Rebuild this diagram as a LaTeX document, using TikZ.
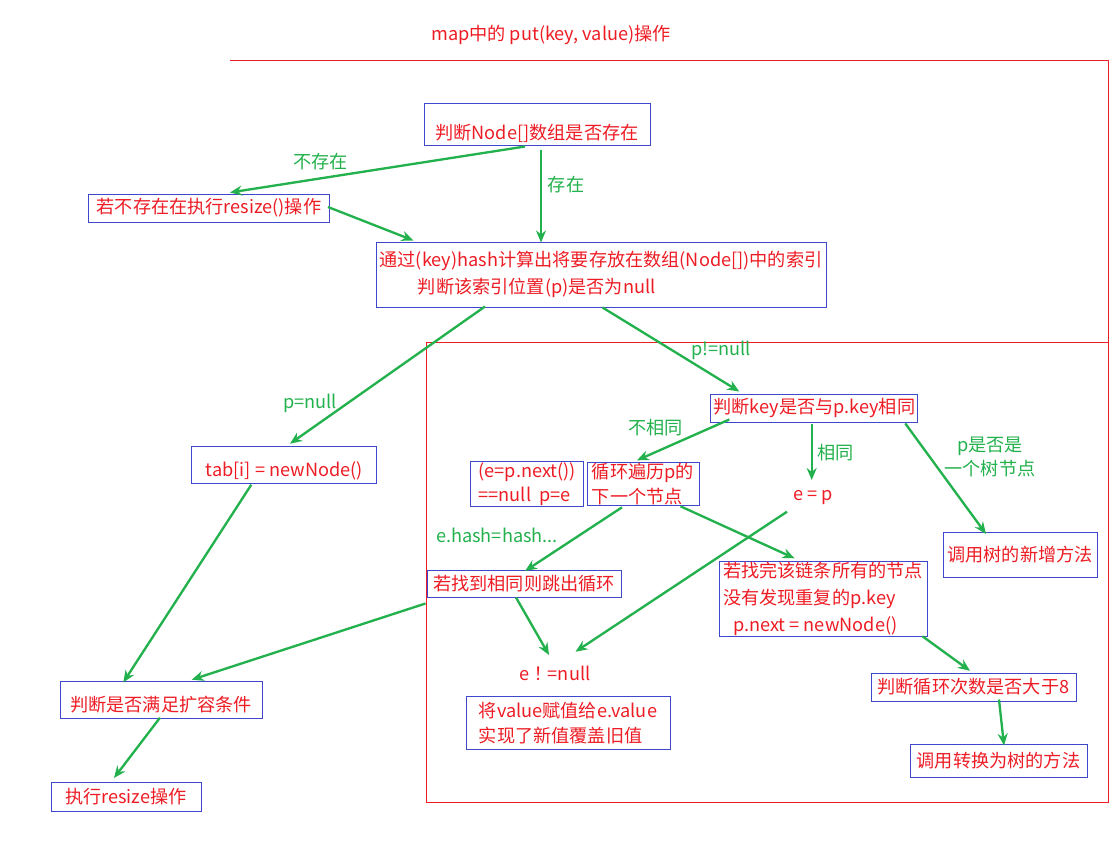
\documentclass[tikz,border=0pt]{standalone}
\usepackage{fontspec}
\setmainfont{Noto Sans CJK SC}
\newfontfamily\tcfont{Noto Sans CJK TC}
\definecolor{mygreen}{HTML}{22B14C}
\definecolor{myred}{HTML}{ED1C24}
\definecolor{myblue}{HTML}{3F48CC}
\usepackage{tikz}
\usetikzlibrary{arrows.meta, calc}
\newcommand{\flowfont}{\fontsize{15.5}{21}\selectfont}
\tikzset{
    flowbox/.style={draw=myblue, line width=0.3mm, text=myred, inner sep=0.5pt, align=left, font=\flowfont},
    boxsize/.style 2 args={minimum width=#1*0.3mm, minimum height=#2*0.3mm},
    lowtext/.style={text height=#1, text depth=0pt},
    plaintext/.style={text=myred, inner sep=1pt, font=\flowfont},
    lbl/.style={text=mygreen, inner sep=0pt, align=center, font=\flowfont},
    flowarrow/.style={draw=mygreen, line width=0.7mm, -{Stealth[length=3.6mm,width=3mm]}}
}

\begin{document}
\begin{tikzpicture}[x=0.3mm,y=-0.3mm]
        \useasboundingbox (0,0) rectangle (1113,852);

        % Frame
        \node[plaintext] (title) at (551,35) {map中的 put(key, value)操作};
        \draw[myred, line width=0.3mm] (230,60) -- (1108,60) -- (1108,802) -- (426,802) -- (426,342) -- (1108,342);

        % Boxes
        \node[flowbox, boxsize={226}{42}, lowtext=9.2mm] (nodearr) at (537,124) {判断Node[]数组是否存在};
        \node[flowbox, boxsize={241}{28}] (resizeA) at (209,208) {若不存在在执行resize()操作};
        \node[flowbox, boxsize={450}{65}, font=\fontsize{15.5}{22.5}\selectfont] (hashidx) at (601,274.5)
            {通过(key)hash计算出将要存放在数组(Node[])中的索引\\\hspace*{11.5mm}判断该索引位置(p)是否为null};
        \node[flowbox, boxsize={185}{37}, lowtext=7mm] (tabnew) at (284.3,464.7) {tab[i] = newNode()};
        \node[flowbox, boxsize={207}{28}] (keycmp) at (814.3,408) {判断key是否与p.key相同};
        \node[flowbox, boxsize={113}{43}] (loopcond) at (527.3,484.3) {(e=p.next())\\==null\ \ p=e};
        \node[flowbox, boxsize={112}{43}] (loopnext) at (643,484.3) {循环遍历p的\\下一个节点};
        \node[flowbox, boxsize={194}{27}] (foundsame) at (524,583.5) {若找到相同则跳出循环};
        \node[flowbox, boxsize={208}{75}, font=\fontsize{15.5}{23}\selectfont] (notfound) at (823,599.3)
            {若找完该链条所有的节点\\没有发现重复的p.key\\\hspace*{3mm}p.next = newNode()};
        \node[flowbox, boxsize={154}{45}] (treeadd) at (1020,555) {调用树的新增方法};
        \node[plaintext] (eisp) at (813,498) {e = p};
        \node[plaintext] (enotnull) at (555,673) {e{\tcfont ！}=null};
        \node[flowbox, boxsize={204}{53}] (setvalue) at (568,723.3) {将value赋值给e.value\\实现了新值覆盖旧值};
        \node[flowbox, boxsize={205}{28}] (loopcount) at (973.5,687) {判断循环次数是否大于8};
        \node[flowbox, boxsize={177}{33}] (totree) at (998.5,760.5) {调用转换为树的方法};
        \node[flowbox, boxsize={202}{37}, lowtext=7mm] (resizecheck) at (161,699.7) {判断是否满足扩容条件};
        \node[flowbox, boxsize={150}{29}] (doresize) at (126,797) {执行resize操作};

        % Labels
        \node[lbl] (lnone) at (320.5,161.7) {不存在};
        \node[lbl] (lexist) at (566,185) {存在};
        \node[lbl] (lnull) at (310,403) {p=null};
        \node[lbl] (lnotnull) at (721,350) {p!=null};
        \node[lbl] (ldiff) at (655.5,427.7) {不相同};
        \node[lbl] (lsame) at (835.5,452.7) {相同};
        \node[lbl] (ltree) at (990,457) {p是否是\\一个树节点};
        \node[lbl] (lhash) at (497,535) {e.hash=hash...};

        % Arrows
        \draw[flowarrow] ($(nodearr.south)+(-12,1)$) -- ($(resizeA.north)+(21,-1)$);
        \draw[flowarrow] ($(nodearr.south)+(4,4)$) -- ($(hashidx.north)+(-60,1)$);
        \draw[flowarrow] ($(resizeA.east)+(-2,-1)$) -- ($(hashidx.north west)+(38,-1)$);
        \draw[flowarrow] ($(hashidx.south)+(-116,-1)$) -- ($(tabnew.north)+(5.7,-2)$);
        \draw[flowarrow] ($(hashidx.south)+(1.5,0)$) -- ($(keycmp.north west)+(29,-2)$);
        \draw[flowarrow] ($(keycmp.south west)+(19,-3)$) -- ($(loopnext.north)+(-6,-2)$);
        \draw[flowarrow] ($(keycmp.south)+(-2.6,1)$) -- ($(eisp)+(-1.3,-18)$);
        \draw[flowarrow] ($(keycmp.south east)+(-13,1)$) -- ($(treeadd.north)+(-34,2)$);
        \draw[flowarrow] ($(loopnext.south)+(-21,1)$) -- ($(foundsame.north)+(1,1.5)$);
        \draw[flowarrow] ($(loopnext.south east)+(-19,0)$) -- ($(notfound.north west)+(76,-3)$);
        \draw[flowarrow] ($(foundsame.south)+(-8,0)$) -- ($(enotnull)+(-6,-18)$);
        \draw[flowarrow] ($(eisp)+(-26,13.7)$) -- ($(enotnull)+(20.5,-21.3)$);
        \draw[flowarrow] ($(foundsame.south west)+(-1,6)$) -- ($(resizecheck.north)+(30.7,-1)$);
        \draw[flowarrow] ($(tabnew.south)+(-33,1)$) -- ($(resizecheck.north)+(-37.7,1.7)$);
        \draw[flowarrow] ($(resizecheck.south)+(-1,-1)$) -- ($(doresize.north)+(-12,-4)$);
        \draw[flowarrow] ($(notfound.south east)+(-5,-1)$) -- ($(loopcount.north)+(-3.5,-1.7)$);
        \draw[flowarrow] ($(loopcount.south)+(25.5,-2)$) -- ($(totree.north)+(5.5,2)$);
\end{tikzpicture}
\end{document}
